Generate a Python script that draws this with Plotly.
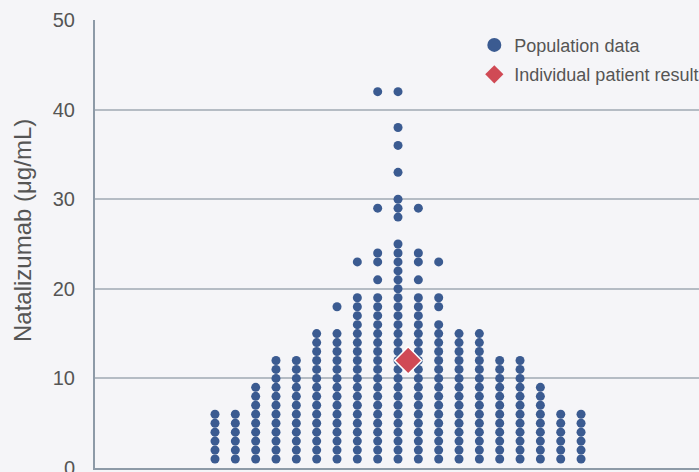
import plotly.graph_objects as go

# Population dot-plot: each column is a bin, stacked values per column
column_index = list(range(1, 20))
column_values = [
    list(range(1, 7)),
    list(range(1, 7)),
    list(range(1, 10)),
    list(range(1, 13)),
    list(range(1, 13)),
    list(range(1, 16)),
    list(range(1, 16)) + [18],
    list(range(1, 20)) + [23],
    list(range(1, 20)) + [21, 23, 24, 29, 42],
    list(range(1, 26)) + [28, 29, 30, 33, 36, 38, 42],
    list(range(1, 20)) + [21, 23, 24, 29],
    list(range(1, 17)) + [18, 19, 23],
    list(range(1, 16)),
    list(range(1, 16)),
    list(range(1, 13)),
    list(range(1, 13)),
    list(range(1, 10)),
    list(range(1, 7)),
    list(range(1, 7)),
]

patient_x = [10.5]
patient_value = [12]

y_ticks = [0, 10, 20, 30, 40, 50]

BLUE = "#3b5b91"
RED = "#d04a55"
TEXT = "#555555"

pop_x = []
pop_y = []
for cx, vals in zip(column_index, column_values):
    for v in vals:
        pop_x.append(cx)
        pop_y.append(v)

fig = go.Figure()
fig.add_trace(go.Scatter(
    x=pop_x, y=pop_y, mode="markers", showlegend=False,
    marker=dict(symbol="circle", size=9, color=BLUE, line=dict(width=0)),
    cliponaxis=False,
))
fig.add_trace(go.Scatter(
    x=patient_x, y=patient_value, mode="markers", showlegend=False,
    marker=dict(symbol="diamond", size=21, color=RED,
                line=dict(width=1.5, color="white")),
    cliponaxis=False,
))

# Legend entries with larger symbols
fig.add_trace(go.Scatter(
    x=[None], y=[None], mode="markers", name="Population data",
    legendgroup="pop",
    marker=dict(symbol="circle", size=14, color=BLUE),
))
fig.add_trace(go.Scatter(
    x=[None], y=[None], mode="markers", name="Individual patient result",
    legendgroup="pat",
    marker=dict(symbol="diamond", size=14, color=RED),
))

fig.update_layout(
    width=699, height=472,
    margin=dict(l=95, r=0, t=20, b=4, autoexpand=False),
    paper_bgcolor="#f5f5f8",
    plot_bgcolor="#f5f5f8",
    font=dict(family="Liberation Sans, Arial, sans-serif", color=TEXT),
    showlegend=True,
    legend=dict(
        x=0.628, y=0.985, xanchor="left", yanchor="top",
        bgcolor="rgba(0,0,0,0)",
        font=dict(size=18, color=TEXT),
        itemsizing="trace",
        tracegroupgap=3,
        itemwidth=30,
    ),
    xaxis=dict(
        range=[-4.9, 24.8],
        showgrid=False, zeroline=False, showticklabels=False, ticks="",
        showline=True, linecolor="#8d9aa7", linewidth=2, mirror=False,
    ),
    yaxis=dict(
        range=[0, 50],
        tickvals=y_ticks[1:],
        tickfont=dict(size=20, color=TEXT),
        ticks="", ticklen=0,
        ticklabelstandoff=14,
        showgrid=True, gridcolor="#b5bcc4", gridwidth=1.5,
        zeroline=False,
        showline=True, linecolor="#8d9aa7", linewidth=2,
    ),
    annotations=[
        dict(
            text="Natalizumab (μg/mL)", textangle=-90,
            xref="paper", yref="paper", x=0, y=0.529,
            xanchor="center", yanchor="middle", xshift=-73,
            showarrow=False,
            font=dict(size=24, color=TEXT),
        ),
        # the zero label sits on the lower edge of the figure
        dict(
            text=str(y_ticks[0]),
            xref="paper", yref="y", x=0, y=y_ticks[0],
            xanchor="right", yanchor="middle", xshift=-18,
            showarrow=False,
            font=dict(size=20, color=TEXT),
        ),
    ],
)

fig.write_html("out.html")
